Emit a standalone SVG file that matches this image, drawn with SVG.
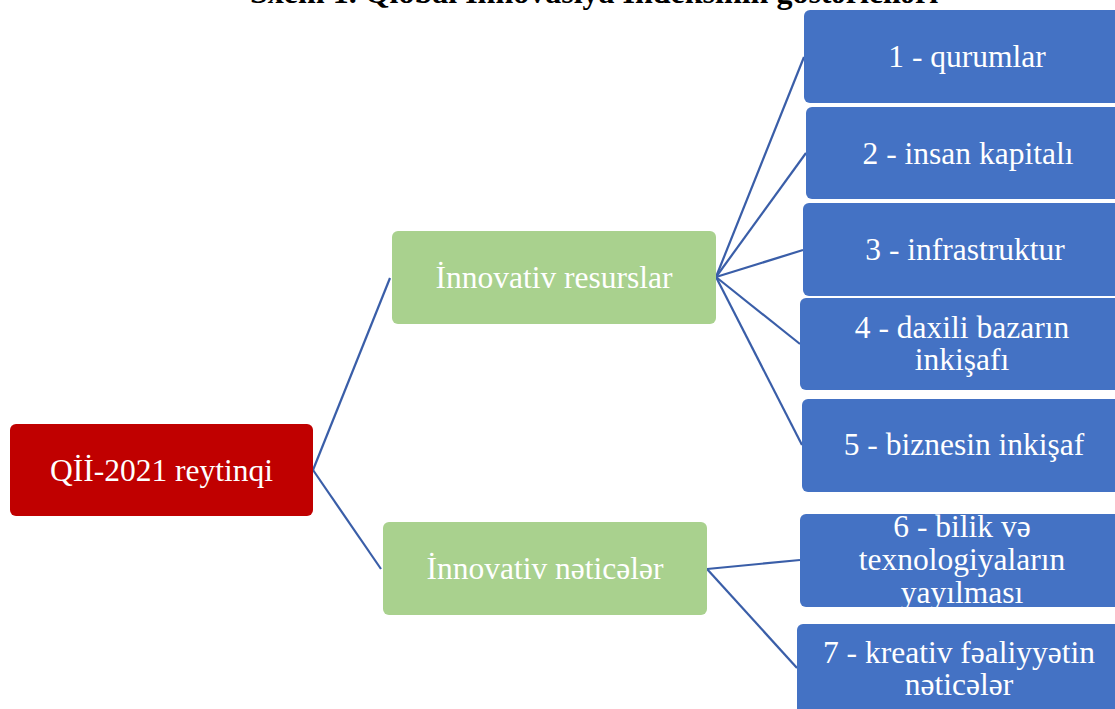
<svg xmlns="http://www.w3.org/2000/svg" width="1115" height="709" viewBox="0 0 1115 709">
<style>
.t{font-family:"Liberation Serif","Times New Roman",serif;font-size:31.5px;fill:#ffffff;text-anchor:middle}
.title{font-family:"Liberation Serif","Times New Roman",serif;font-size:32px;font-weight:bold;fill:#000000}
.red{fill:#c00000}
.green{fill:#a9d18e}
.blue{fill:#4472c4}
.c{stroke:#3a5ea8;stroke-width:2.2;fill:none}
</style>
<rect width="1115" height="709" fill="#ffffff"/>
<text class="title" x="250" y="3">Sxem 1. Qlobal İnnovasiya İndeksinin göstəriciləri</text>
<g id="connectors">
<line class="c" x1="313" y1="470" x2="390" y2="278"/>
<line class="c" x1="313" y1="470" x2="381" y2="569"/>
<line class="c" x1="716" y1="277" x2="804" y2="57"/>
<line class="c" x1="716" y1="277" x2="806" y2="153"/>
<line class="c" x1="716" y1="277" x2="803" y2="250"/>
<line class="c" x1="716" y1="277" x2="800" y2="344"/>
<line class="c" x1="716" y1="277" x2="802" y2="445"/>
<line class="c" x1="707" y1="569" x2="800" y2="560"/>
<line class="c" x1="707" y1="569" x2="797" y2="668"/>
</g>
<g id="root"><rect class="red" x="10" y="424" width="303" height="92" rx="6"/><text class="t" x="161.5" y="480.5">Qİİ-2021 reytinqi</text></g>
<g id="resources"><rect class="green" x="392" y="231" width="324" height="93" rx="6"/><text class="t" x="554" y="288">İnnovativ resurslar</text></g>
<g id="results"><rect class="green" x="383" y="522" width="324" height="93" rx="6"/><text class="t" x="545" y="579">İnnovativ nəticələr</text></g>
<g id="n1"><rect class="blue" x="804" y="10" width="330" height="93" rx="6"/><text class="t" x="967" y="67">1 - qurumlar</text></g>
<g id="n2"><rect class="blue" x="806" y="107" width="330" height="92" rx="6"/><text class="t" x="968" y="163.5">2 - insan kapitalı</text></g>
<g id="n3"><rect class="blue" x="803" y="203" width="330" height="93" rx="6"/><text class="t" x="965" y="260">3 - infrastruktur</text></g>
<g id="n4"><rect class="blue" x="800" y="298" width="330" height="92" rx="6"/><text class="t" x="962" y="338">4 - daxili bazarın</text><text class="t" x="962" y="370">inkişafı</text></g>
<g id="n5"><rect class="blue" x="802" y="399" width="330" height="93" rx="6"/><text class="t" x="964" y="455">5 - biznesin inkişaf</text></g>
<g id="n6"><rect class="blue" x="800" y="514" width="330" height="93" rx="6"/><text class="t" x="962" y="537">6 - bilik və</text><text class="t" x="962" y="570">texnologiyaların</text><text class="t" x="962" y="603">yayılması</text></g>
<g id="n7"><rect class="blue" x="797" y="624" width="330" height="93" rx="6"/><text class="t" x="959" y="663">7 - kreativ fəaliyyətin</text><text class="t" x="959" y="695">nəticələr</text></g>
</svg>
